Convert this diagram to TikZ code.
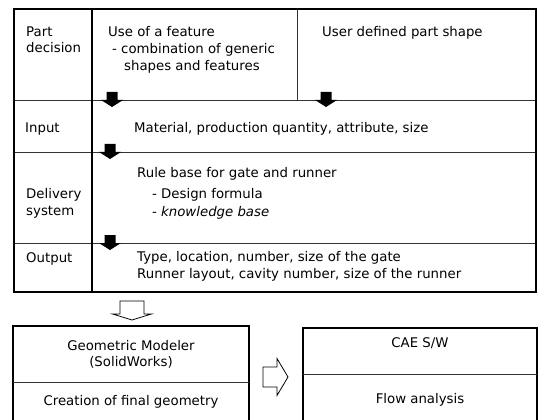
\documentclass[tikz,border=0pt]{standalone}
\usepackage{fontspec}
\setmainfont{DejaVu Sans}
\begin{document}
\begin{tikzpicture}[x=1pt,y=-1pt,
  txt/.style={inner sep=0pt,anchor=base west,font=\fontsize{13.3}{17}\selectfont},
  ctxt/.style={inner sep=0pt,anchor=base,font=\fontsize{13.3}{17}\selectfont},
  frame/.style={line width=1.1pt,black},
  rowline/.style={line width=0.7pt,black!80},
  spine/.style={line width=2.6pt,black},
  blk/.style={fill=black,draw=none},
  hollow/.style={draw=black,line width=0.8pt,fill=white,line join=miter}]
\useasboundingbox (0,0) rectangle (539,420);

% ---- decision table ----
\draw[rowline] (14,100) -- (536,100);
\draw[rowline] (14,152) -- (536,152);
\draw[rowline] (14,243) -- (536,243);
\draw[rowline] (297,9) -- (297,100);
\draw[frame] (14,9) rectangle (536,292);
\draw[spine] (92,9) -- (92,292);

% row headings
\node[txt] (hpart) at (26,37) {Part};
\node[txt] (hdec) at (26,53) {decision};
\node[txt] (hinput) at (25,132) {Input};
\node[txt] (hdel) at (26,198) {Delivery};
\node[txt] (hsys) at (26,215) {system};
\node[txt] (hout) at (26,262) {Output};

% row contents
\node[txt] (feat1) at (108,37) {Use of a feature};
\node[txt] (feat2) at (112,54) {- combination of generic};
\node[txt] (feat3) at (124,71) {shapes and features};
\node[txt] (user) at (322,37) {User defined part shape};
\node[txt] (mat) at (134,132) {Material, production quantity, attribute, size};
\node[txt] (rule) at (137,177) {Rule base for gate and runner};
\node[txt] (form) at (152,198) {- Design formula};
\node[txt] (know) at (152,216) {- \itshape knowledge base};
\node[txt] (gate) at (137,261) {Type, location, number, size of the gate};
\node[txt] (runr) at (137,278) {Runner layout, cavity number, size of the runner};

% solid flow arrows between rows
\coordinate (a1) at (112,100);
\coordinate (a2) at (326,100);
\coordinate (a3) at (110,152);
\coordinate (a4) at (110,243);
\foreach \c in {a1,a2,a3,a4}{
  \fill[blk] ([shift={(-5.5,-8)}]\c) -- ([shift={(5.5,-8)}]\c) -- ([shift={(5.5,0)}]\c)
    -- ([shift={(11,0)}]\c) -- ([shift={(0,7)}]\c) -- ([shift={(-11,0)}]\c)
    -- ([shift={(-5.5,0)}]\c) -- cycle;
}

% ---- downstream tools ----
\draw[frame] (13,421) -- (13,326) -- (249,326) -- (249,421);
\draw[rowline] (13,382) -- (249,382);
\node[ctxt] (geo1) at (131,350) {Geometric Modeler};
\node[ctxt] (geo2) at (131,366) {(SolidWorks)};
\node[ctxt] (geo3) at (131,405) {Creation of final geometry};

\draw[frame] (303,421) -- (303,328) -- (537,328) -- (537,421);
\draw[rowline] (303,374) -- (537,374);
\node[ctxt] (cae) at (420,347) {CAE S/W};
\node[ctxt] (flow) at (420,403) {Flow analysis};

% hollow block arrows
\coordinate (down) at (132,301);
\draw[hollow] ([shift={(-12,0)}]down) -- ([shift={(12,0)}]down) -- ([shift={(12,13)}]down)
  -- ([shift={(19.5,13)}]down) -- ([shift={(0,19)}]down) -- ([shift={(-19.5,13)}]down)
  -- ([shift={(-12,13)}]down) -- cycle;
\coordinate (right) at (263,377);
\draw[hollow] ([shift={(0,-10)}]right) -- ([shift={(14,-10)}]right) -- ([shift={(14,-18.5)}]right)
  -- ([shift={(25,0)}]right) -- ([shift={(14,18.5)}]right) -- ([shift={(14,10)}]right)
  -- ([shift={(0,10)}]right) -- cycle;
\end{tikzpicture}
\end{document}
